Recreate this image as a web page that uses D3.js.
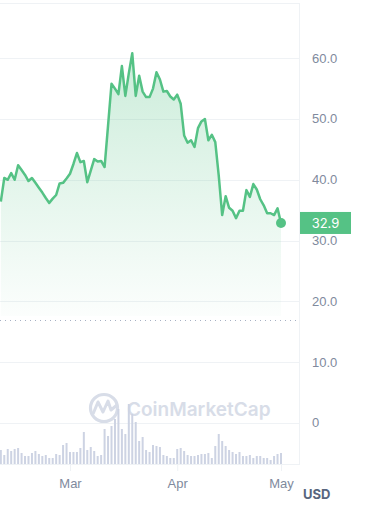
<!DOCTYPE html>
<html lang="en">
<meta charset="utf-8">
<style>
body { margin: 0; background: #fff; }
svg { font-family: Inter, "Noto Sans", sans-serif; }
.axis text { fill: #808a9d; font-size: 13px; }
.axis path, .axis line { stroke: #eff2f5; }
.grid line { stroke: #eff2f5; stroke-width: 1px; }
.line { fill: none; stroke: #55c285; stroke-width: 2.5px; stroke-linejoin: round; }
</style>
<body>
<script src="https://d3js.org/d3.v7.min.js"></script>
<script>

// daily closes from 2024-02-10 to 2024-05-01
var startDate = "2024-02-10";
var prices = [36.4, 40.3, 40.0, 41.1, 40.0, 42.4, 41.6, 40.8, 39.8, 40.3,
  39.5, 38.7, 37.9, 37.0, 36.2, 36.9, 37.5, 39.4, 39.5, 40.2,
  41.0, 42.6, 44.4, 42.9, 43.1, 39.6, 41.5, 43.4, 43.0, 43.1,
  42.1, 48.9, 55.8, 55.0, 54.1, 58.7, 53.8, 57.5, 60.8, 53.8,
  57.1, 54.5, 53.6, 53.6, 55.0, 57.7, 56.5, 54.5, 54.6, 53.7,
  53.2, 54.0, 52.5, 47.3, 46.1, 46.5, 45.4, 48.5, 49.6, 50.0,
  46.5, 47.4, 46.2, 40.7, 34.2, 37.3, 35.4, 34.9, 33.7, 34.9,
  34.9, 38.3, 37.2, 39.3, 38.4, 36.8, 35.8, 34.5, 34.5, 34.2,
  35.3, 32.9];
var volumes = [14, 9, 15, 13, 15, 16, 11, 8, 8, 11,
  13, 10, 8, 9, 6, 6, 10, 9, 19, 21,
  12, 12, 12, 16, 32, 14, 17, 13, 8, 9,
  35, 28, 38, 45, 55, 35, 30, 60, 50, 42,
  23, 27, 14, 12, 19, 18, 17, 9, 8, 6,
  6, 15, 16, 13, 9, 8, 8, 9, 10, 10,
  11, 6, 18, 30, 23, 18, 14, 12, 10, 12,
  8, 8, 9, 6, 8, 8, 6, 6, 4, 8,
  10, 11];
var yTicks = [0, 10, 20, 30, 40, 50, 60];
var monthTicks = ["2024-03-01", "2024-04-01", "2024-05-01"];
var refPrice = 16.9;
var lastPrice = 32.9;

var parseDate = d3.timeParse("%Y-%m-%d");
var t0 = parseDate(startDate);
var data = prices.map(function(p, i) {
  return { date: d3.timeDay.offset(t0, i), price: p, vol: volumes[i] };
});

var W = 388, H = 508;
var plotRight = 299, plotTop = 3, plotBottom = 464;

var x = d3.scaleTime()
    .domain([parseDate("2024-03-01"), parseDate("2024-05-01")])
    .range([70, 281]);
var y = d3.scaleLinear().domain([0, 60]).range([423, 58.2]);
var yVol = d3.scaleLinear().domain([0, 70]).range([plotBottom, plotBottom - 70]);

var svg = d3.select("body").append("svg")
    .attr("width", W)
    .attr("height", H);

var defs = svg.append("defs");
var grad = defs.append("linearGradient")
    .attr("id", "fillGrad")
    .attr("x1", 0).attr("y1", 0).attr("x2", 0).attr("y2", 1);
grad.append("stop").attr("offset", "0%").attr("stop-color", "#55c285").attr("stop-opacity", 0.3);
grad.append("stop").attr("offset", "100%").attr("stop-color", "#55c285").attr("stop-opacity", 0.02);

// frame + gridlines
svg.append("g").attr("class", "grid")
  .selectAll("line")
  .data(yTicks)
  .enter().append("line")
    .attr("x1", 0).attr("x2", plotRight)
    .attr("y1", function(d) { return Math.round(y(d)) + 0.5; })
    .attr("y2", function(d) { return Math.round(y(d)) + 0.5; });

svg.append("line").attr("x1", 0).attr("x2", plotRight + 0.5)
    .attr("y1", plotTop + 0.5).attr("y2", plotTop + 0.5)
    .attr("stroke", "#eff2f5");
svg.append("line").attr("x1", plotRight + 0.5).attr("x2", plotRight + 0.5)
    .attr("y1", plotTop).attr("y2", plotBottom + 1)
    .attr("stroke", "#eff2f5");

// area + line
var area = d3.area()
    .x(function(d) { return x(d.date); })
    .y0(316)
    .y1(function(d) { return y(d.price); });
var valueline = d3.line()
    .x(function(d) { return x(d.date); })
    .y(function(d) { return y(d.price); });

svg.append("path").datum(data)
    .attr("fill", "url(#fillGrad)")
    .attr("d", area);

// dotted reference line
svg.append("line")
    .attr("x1", 0).attr("x2", 296)
    .attr("y1", Math.round(y(refPrice)) + 0.5).attr("y2", Math.round(y(refPrice)) + 0.5)
    .attr("stroke", "#a6b0c3")
    .attr("stroke-width", 1)
    .attr("stroke-dasharray", "1,4");

// watermark
var wm = svg.append("g").attr("fill", "none").attr("stroke", "#d8dde8");
wm.append("circle").attr("cx", 104).attr("cy", 408).attr("r", 13.5).attr("stroke-width", 3.2);
wm.append("path")
    .attr("stroke-width", 3)
    .attr("stroke-linejoin", "round")
    .attr("d", "M93,414 L98,402 L103,412 L108,401 L111,410 L117,405");
svg.append("text")
    .attr("x", 127).attr("y", 416)
    .attr("fill", "#d8dde8")
    .style("font-size", "19px")
    .style("font-weight", 600)
    .text("CoinMarketCap");

// volume bars
svg.append("g").selectAll("rect")
  .data(data)
  .enter().append("rect")
    .attr("x", function(d) { return x(d.date) - 1; })
    .attr("width", 2)
    .attr("y", function(d) { return yVol(d.vol); })
    .attr("height", function(d) { return plotBottom - yVol(d.vol); })
    .attr("fill", "#cdd3e3");

svg.append("line").attr("x1", 0).attr("x2", plotRight + 0.5)
    .attr("y1", plotBottom + 0.5).attr("y2", plotBottom + 0.5)
    .attr("stroke", "#eff2f5");

svg.append("path").datum(data)
    .attr("class", "line")
    .attr("d", valueline);

var last = data[data.length - 1];
svg.append("circle")
    .attr("cx", x(last.date)).attr("cy", y(last.price))
    .attr("r", 5)
    .attr("fill", "#55c285");

// y axis labels
var yAxis = svg.append("g")
    .attr("class", "axis")
    .attr("transform", "translate(312,0)")
    .call(d3.axisRight(y).tickValues(yTicks).tickSize(0).tickPadding(0)
      .tickFormat(function(d) { return d === 0 ? "0" : d3.format(".1f")(d); }));
yAxis.select(".domain").remove();
yAxis.selectAll("text").attr("dy", "0.3em");

// x axis
var xAxis = svg.append("g")
    .attr("class", "axis")
    .attr("transform", "translate(0," + (plotBottom + 1) + ")")
    .call(d3.axisBottom(x).tickValues(monthTicks.map(parseDate))
      .tickSize(6).tickPadding(8).tickFormat(d3.timeFormat("%b")));
xAxis.select(".domain").remove();
xAxis.selectAll("line").attr("stroke", "#e6e9ef");

svg.append("text")
    .attr("x", 303).attr("y", 499)
    .attr("fill", "#58667e")
    .style("font-size", "13px")
    .style("font-weight", 700)
    .text("USD");

// last price badge
svg.append("rect")
    .attr("x", 300).attr("y", y(lastPrice) - 11)
    .attr("width", 51).attr("height", 22)
    .attr("fill", "#55c285");
svg.append("text")
    .attr("x", 325.5).attr("y", y(lastPrice))
    .attr("dy", "0.35em")
    .attr("text-anchor", "middle")
    .attr("fill", "#fff")
    .style("font-size", "13px")
    .text(d3.format(".1f")(lastPrice));

</script>
</body>
</html>
